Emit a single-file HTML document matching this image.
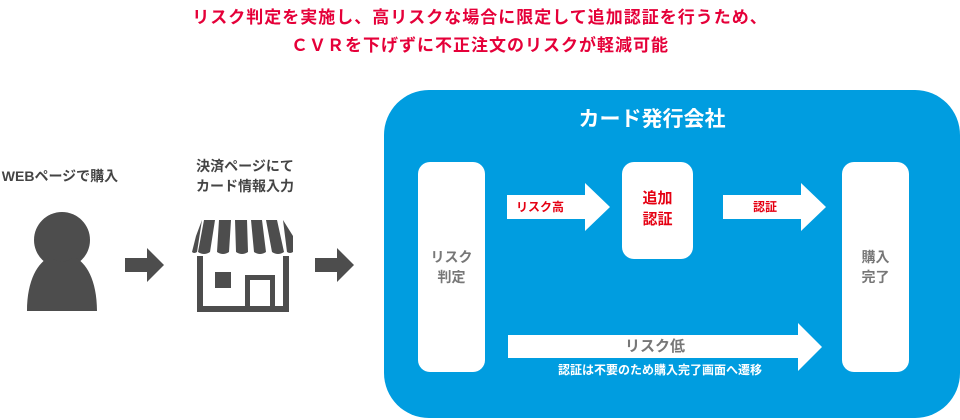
<!DOCTYPE html>
<html><head><meta charset="utf-8"><style>
*{margin:0;padding:0;box-sizing:border-box}
body{width:960px;height:420px;background:#fff;position:relative;overflow:hidden;font-family:"Liberation Sans","Noto Sans CJK JP",sans-serif}
.a{position:absolute}
.t{color:#e50039;font-weight:bold;font-size:17px;letter-spacing:1px;text-align:center;width:960px;left:0;white-space:nowrap}
.g{color:#444;font-size:14px;font-weight:bold;text-align:center;line-height:20px}
.box{background:#fff;border-radius:12px}
.gt{color:#777;font-size:14px;font-weight:bold;text-align:center;line-height:20px}
</style></head><body>
<div class="a t" style="top:3px">リスク判定を実施し、高リスクな場合に限定して追加認証を行うため、</div>
<div class="a t" style="top:31px">ＣＶＲを下げずに不正注文のリスクが軽減可能</div>

<div class="a g" style="left:0;width:120px;top:166px">WEBページで購入</div>
<div class="a g" style="left:185px;width:120px;top:156px">決済ページにて<br>カード情報入力</div>

<svg class="a" style="left:0;top:0" width="384" height="420">
<circle cx="62" cy="240" r="28" fill="#4d4d4d"/>
<path d="M27 311 C27 280 38 262 50 257 Q62 266 74 257 C86 262 97 280 97 311 Z" fill="#4d4d4d"/>
<path d="M125 258 h22 v-10 l17 17 l-17 17 v-10 h-22 z" fill="#4d4d4d"/>
<path d="M315 258 h22 v-10 l17 17 l-17 17 v-10 h-22 z" fill="#4d4d4d"/>
<g fill="#4d4d4d">
<path d="M204 220 h11 l-5 32 q-6 4 -12 0 l6 -32 z"/>
<path d="M219 220 h12 l-2 32 q-6 4 -12 0 z"/>
<path d="M235 220 h12 l1 32 q-6 4 -12 0 z"/>
<path d="M251 220 h11 l4 32 q-6 4 -12 0 z"/>
<path d="M266 220 h11 l7 32 q-6 4 -12 0 z"/>
<path d="M196 236 l6 -16 -5 32 q-3 2 -5 0 z"/>
<path d="M283 220 l10 16 v16 q-3 2 -6 0 z"/>
<rect x="197" y="256" width="6" height="56"/>
<rect x="283" y="256" width="6" height="56"/>
<rect x="197" y="306" width="92" height="6"/>
<rect x="215" y="272" width="16" height="16"/>
<path d="M245 275 h30 v33 h-5 v-28 h-20 v28 h-5 z"/>
</g>
</svg>

<div class="a" style="left:384px;top:90px;width:576px;height:328px;background:#009de0;border-radius:45px"></div>
<div class="a" style="left:560px;top:103px;width:184px;text-align:center;color:#fff;font-size:21px;font-weight:bold">カード発行会社</div>

<div class="a box" style="left:418px;top:162px;width:67px;height:210px"></div>
<div class="a gt" style="left:418px;top:247px;width:67px">リスク<br>判定</div>
<div class="a box" style="left:842px;top:162px;width:67px;height:210px"></div>
<div class="a gt" style="left:842px;top:247px;width:67px">購入<br>完了</div>
<div class="a box" style="left:622px;top:162px;width:71px;height:97px"></div>
<div class="a" style="left:622px;top:188px;width:71px;text-align:center;color:#e50012;font-weight:bold;font-size:15px;line-height:21px">追加<br>認証</div>

<svg class="a" style="left:384px;top:0" width="576" height="420">
<path d="M123 195 h78 v-12 l25 24 l-25 24 v-12 h-78 z" fill="#fff"/>
<path d="M339 195 h78 v-12 l25 24 l-25 24 v-12 h-78 z" fill="#fff"/>
<path d="M124 335 h290 v-12 l24 24 l-24 24 v-13 h-290 z" fill="#fff"/>
</svg>
<div class="a" style="left:500px;top:199px;width:80px;text-align:center;color:#e50012;font-weight:bold;font-size:12px;line-height:16px">リスク高</div>
<div class="a" style="left:725px;top:199px;width:80px;text-align:center;color:#e50012;font-weight:bold;font-size:12px;line-height:16px">認証</div>
<div class="a" style="left:600px;top:337px;width:110px;text-align:center;color:#777;font-size:15px;font-weight:bold;line-height:20px">リスク低</div>
<div class="a" style="left:520px;top:362px;width:280px;text-align:center;color:#fff;font-size:12px;font-weight:bold;line-height:16px">認証は不要のため購入完了画面へ遷移</div>
</body></html>
